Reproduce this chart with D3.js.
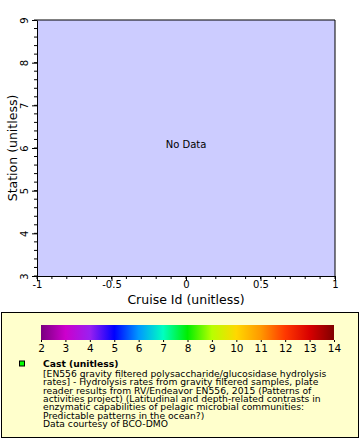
<!DOCTYPE html>
<html><head><meta charset="utf-8">
<script src="https://cdn.jsdelivr.net/npm/d3@7"></script>
<style>body{margin:0;background:#fff}svg{display:block}text{font-family:"DejaVu Sans",sans-serif}</style>
</head><body>
<script>
const xDomain = [-1, 1];
const yDomain = [3, 9];
const xTicks = [-1, -0.5, 0, 0.5, 1];
const xTickLabels = ["-1", "-0.5", "0", "0.5", "1"];
const yTicks = [3, 4, 5, 6, 7, 8, 9];
const colorTicks = [2,3,4,5,6,7,8,9,10,11,12,13,14];
const colorStops = [
  [2, "#7a0080"], [3, "#cc00cc"], [4, "#9a20f0"], [5, "#0000ff"], [6, "#0098ff"],
  [7, "#00ffc0"], [8, "#00ee00"], [9, "#b8ff00"], [10, "#ffd800"], [11, "#ff9800"],
  [12, "#ff3800"], [13, "#d80000"], [14, "#800000"]
];
const legendTitle = "Cast (unitless)";
const legendLines = [
  "[EN556 gravity filtered polysaccharide/glucosidase hydrolysis",
  "rates] - Hydrolysis rates from gravity filtered samples, plate",
  "reader results from RV/Endeavor EN556, 2015 (Patterns of",
  "activities project) (Latitudinal and depth-related contrasts in",
  "enzymatic capabilities of pelagic microbial communities:",
  "Predictable patterns in the ocean?)",
  "Data courtesy of BCO-DMO"
];

const W = 360, H = 440;
const svg = d3.select("body").append("svg").attr("width", W).attr("height", H);
const m = {l: 37, r: 335, t: 20, b: 276};
const x = d3.scaleLinear().domain(xDomain).range([m.l, m.r]);
const y = d3.scaleLinear().domain(yDomain).range([m.b, m.t]);

svg.append("rect").attr("x", m.l).attr("y", m.t).attr("width", m.r - m.l).attr("height", m.b - m.t)
  .attr("fill", "#ccccff");

// minor ticks
const g = svg.append("g");
d3.range(0, 21).map(i => -1 + i * 0.1).forEach(v => {
  g.append("line").attr("x1", x(v)).attr("x2", x(v)).attr("y1", m.b).attr("y2", m.b + 3).attr("stroke", "#000");
});
d3.range(0, 31).map(i => 3 + i * 0.2).forEach(v => {
  g.append("line").attr("y1", y(v)).attr("y2", y(v)).attr("x1", m.l).attr("x2", m.l - 3).attr("stroke", "#000");
});
// axes
const xAxis = svg.append("g").attr("transform", `translate(0,${m.b})`)
  .call(d3.axisBottom(x).tickValues(xTicks).tickFormat((d, i) => xTickLabels[i]).tickSize(5).tickSizeOuter(0));
xAxis.selectAll("text").attr("font-size", 10).attr("fill", "#000").attr("dy", "0.6em").attr("y", 6);
const yAxis = svg.append("g").attr("transform", `translate(${m.l},0)`)
  .call(d3.axisLeft(y).tickValues(yTicks).tickFormat(d3.format("d")).tickSize(5).tickSizeOuter(0));
yAxis.selectAll("text").attr("font-size", 10).attr("fill", "#000")
  .attr("text-anchor", "middle").attr("x", -9).attr("y", 0).attr("dy", 0)
  .attr("transform", "rotate(-90,-9,0)");
svg.selectAll(".domain").attr("stroke", "#000");
// top and right border
svg.append("line").attr("x1", m.l).attr("x2", m.r).attr("y1", m.t).attr("y2", m.t).attr("stroke", "#000");
svg.append("line").attr("x1", m.r).attr("x2", m.r).attr("y1", m.t).attr("y2", m.b).attr("stroke", "#000");

svg.append("text").attr("x", (m.l + m.r) / 2).attr("y", 304).attr("text-anchor", "middle")
  .attr("font-size", 12.5).text("Cruise Id (unitless)");
svg.append("text").attr("transform", `translate(17,${(m.t + m.b) / 2}) rotate(-90)`).attr("text-anchor", "middle")
  .attr("font-size", 12.5).text("Station (unitless)");
svg.append("text").attr("x", (m.l + m.r) / 2).attr("y", 148).attr("text-anchor", "middle")
  .attr("font-size", 10).text("No Data");

// legend
svg.append("rect").attr("x", 1.5).attr("y", 312.5).attr("width", 357).attr("height", 125)
  .attr("fill", "#ffffcc").attr("stroke", "#000");
const cx = d3.scaleLinear().domain([2, 14]).range([41, 334]);
const defs = svg.append("defs");
const grad = defs.append("linearGradient").attr("id", "cb");
colorStops.forEach(([v, c]) => grad.append("stop").attr("offset", (v - 2) / 12).attr("stop-color", c));
svg.append("rect").attr("x", cx(2)).attr("y", 325).attr("width", cx(14) - cx(2)).attr("height", 15).attr("fill", "url(#cb)");
const cAxis = svg.append("g").attr("transform", "translate(0,340)")
  .call(d3.axisBottom(cx).tickValues(colorTicks).tickFormat(d3.format("d")).tickSize(2).tickSizeOuter(0));
cAxis.select(".domain").remove();
cAxis.selectAll("text").attr("font-size", 10.5).attr("fill", "#000").attr("y", 5);

svg.append("rect").attr("x", 19.5).attr("y", 361).attr("width", 5).attr("height", 5)
  .attr("fill", "#00ff00").attr("stroke", "#000");
const lt = svg.append("text").attr("x", 43).attr("y", 367).attr("font-size", 9.2)
  .attr("font-family", "DejaVu Sans Condensed");
lt.append("tspan").attr("x", 43).attr("y", 367).attr("font-weight", "bold").text(legendTitle);
legendLines.forEach((t, i) => {
  lt.append("tspan").attr("x", 43).attr("y", 377 + i * 8.3).text(t);
});
</script>
</body></html>
